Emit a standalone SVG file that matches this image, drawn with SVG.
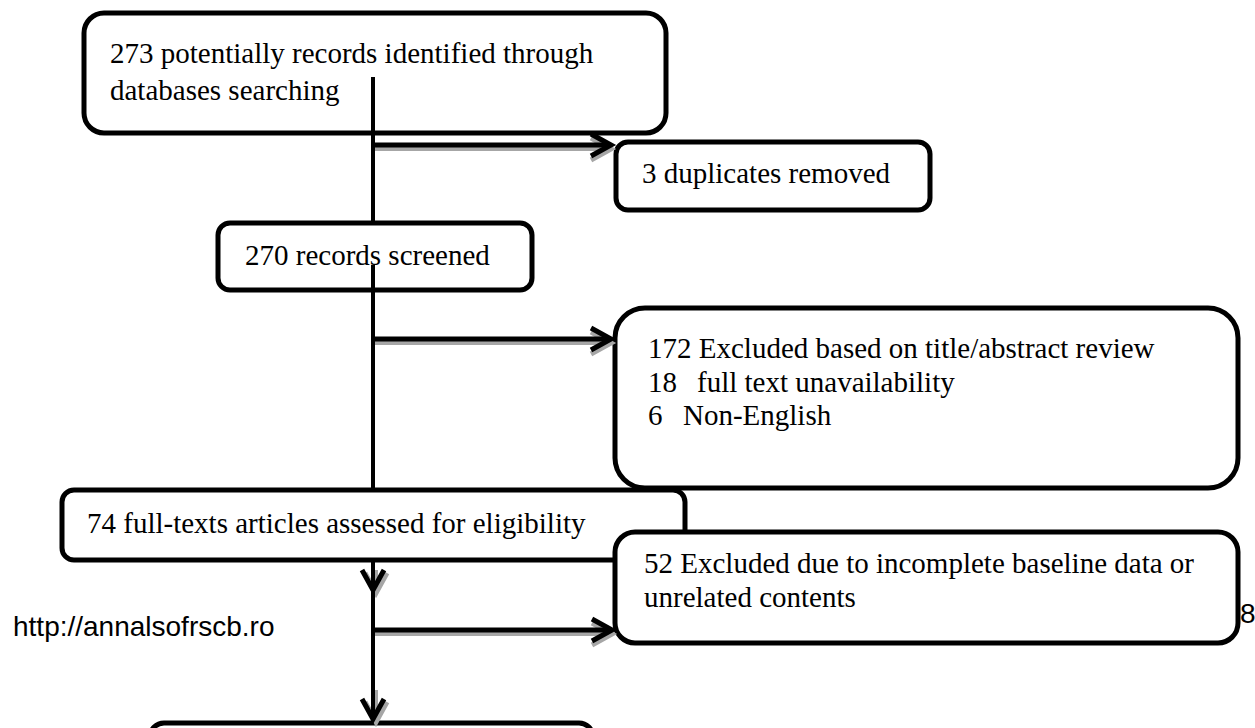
<svg xmlns="http://www.w3.org/2000/svg" width="1255" height="728" viewBox="0 0 1255 728">
<style>
.box{fill:#fff;stroke:#000;stroke-width:5}
.t{font-family:"Liberation Serif","Times New Roman",serif;font-size:29px;fill:#000}
.s{font-family:"Liberation Sans",Arial,sans-serif;font-size:28px;fill:#000}
.ln{fill:none;stroke:#000;stroke-width:4}
.ar{fill:none;stroke:#000;stroke-width:5}
.sh{fill:none;stroke:#a6a6a6;stroke-width:4}
</style>
<defs>
<marker id="chev" markerUnits="userSpaceOnUse" markerWidth="30" markerHeight="30" viewBox="0 0 30 30" refX="24" refY="15" orient="auto" overflow="visible">
<path d="M4,4 L24,15 L4,26" fill="none" stroke="#000" stroke-width="5"/>
</marker>
<marker id="chevsh" markerUnits="userSpaceOnUse" markerWidth="30" markerHeight="30" viewBox="0 0 30 30" refX="24" refY="15" orient="auto" overflow="visible">
<path d="M4,4 L24,15 L4,26" fill="none" stroke="#a6a6a6" stroke-width="5"/>
</marker>
</defs>

<g id="node-identified">
<rect class="box" x="84" y="13" width="582" height="120" rx="20"/>
<text class="t" x="110" y="63">273 potentially records identified through</text>
<text class="t" x="110" y="100">databases searching</text>
</g>
<g id="node-duplicates">
<rect class="box" x="616" y="142" width="314" height="68" rx="12"/>
<text class="t" x="642" y="183">3 duplicates removed</text>
</g>
<g id="node-screened">
<rect class="box" x="218" y="223" width="314" height="67" rx="12"/>
<text class="t" x="245" y="265">270 records screened</text>
</g>
<g id="node-excluded1">
<rect class="box" x="615" y="308" width="623" height="180" rx="30"/>
<text class="t" x="648" y="358">172 Excluded based on title/abstract review</text>
<text class="t" y="392"><tspan x="648">18</tspan><tspan x="697">full text unavailability</tspan></text>
<text class="t" y="425"><tspan x="648">6</tspan><tspan x="683">Non-English</tspan></text>
</g>
<g id="node-fulltext">
<rect class="box" x="62" y="490" width="623" height="70" rx="12"/>
<text class="t" x="87" y="533">74 full-texts articles assessed for eligibility</text>
</g>
<g id="node-excluded2">
<rect class="box" x="615" y="532" width="623" height="111" rx="20"/>
<text class="t" x="644" y="573">52 Excluded due to incomplete baseline data or</text>
<text class="t" x="644" y="607">unrelated contents</text>
</g>
<g id="node-included">
<rect class="box" x="150" y="723" width="443" height="40" rx="14"/>
</g>

<g id="connectors">
<line class="ln" x1="373" y1="77" x2="373" y2="223"/>
<line class="sh" x1="375" y1="149" x2="611" y2="149" marker-end="url(#chevsh)"/>
<line class="ar" x1="373" y1="145" x2="611" y2="145" marker-end="url(#chev)"/>
<line class="ln" x1="373" y1="265" x2="373" y2="490"/>
<line class="sh" x1="375" y1="343" x2="611" y2="343" marker-end="url(#chevsh)"/>
<line class="ar" x1="373" y1="339" x2="611" y2="339" marker-end="url(#chev)"/>
<line class="sh" x1="376" y1="570" x2="376" y2="593" marker-end="url(#chevsh)"/>
<line class="sh" x1="376" y1="690" x2="376" y2="722" marker-end="url(#chevsh)"/>
<line class="sh" x1="375" y1="634" x2="612" y2="634" marker-end="url(#chevsh)"/>
<line class="ln" x1="373" y1="560" x2="373" y2="590" marker-end="url(#chev)"/>
<line class="ln" x1="373" y1="588" x2="373" y2="719" marker-end="url(#chev)"/>
<line class="ar" x1="373" y1="630" x2="612" y2="630" marker-end="url(#chev)"/>
</g>

<text class="s" x="13" y="636">http://annalsofrscb.ro</text>
<text class="s" x="1240" y="623">8</text>
</svg>
